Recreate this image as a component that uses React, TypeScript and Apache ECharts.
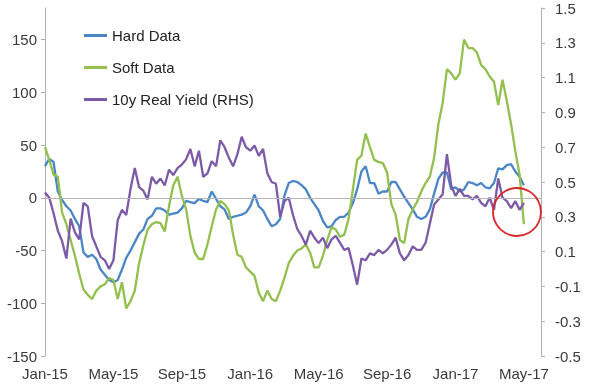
import React, { useEffect, useRef } from "react";
import * as echarts from "echarts";

// Weekly observation dates (1st, 8th, 16th, 23rd of each month), Jan-15 .. Jun-17
const MONTHS = ["Jan", "Feb", "Mar", "Apr", "May", "Jun", "Jul", "Aug", "Sep", "Oct", "Nov", "Dec"];
const DAYS = ["1", "8", "16", "23"];
const categories: string[] = [];
for (let y = 15; y <= 17; y++) {
  for (let m = 0; m < 12; m++) {
    if (y === 17 && m > 5) break;
    for (const d of DAYS) {
      if (y === 17 && m === 5 && d !== "1") break;
      categories.push(`${MONTHS[m]}-${y}|${d}`);
    }
  }
}

// Left axis (index level)
const hardData = [
  30, 37, 34, 6, -2, -8, -12, -20, -27, -52, -56, -54, -58, -68, -73, -78,
  -80, -78, -68, -57, -50, -42, -34, -30, -20, -17, -10, -10, -12, -16, -15, -14,
  -10, -3, -4, -5, -1, -3, -4, 6, -1, -8, -11, -20, -18, -17, -16, -14,
  -8, 3, -8, -12, -20, -27, -25, -20, 2, 14, 16, 15, 12, 8, 0, -6,
  -12, -22, -28, -27, -21, -18, -18, -14, -5, 8, 25, 30, 14, 14, 4, 6,
  6, 15, 15, 8, 1, -5, -11, -18, -20, -18, -11, 4, 18, 24, 24, 8,
  10, 6, 8, 15, 14, 12, 14, 10, 9, 14, 28, 27, 31, 32, 25, 20,
  12,
];
const softData = [
  48, 36, 22, 20, -14, -25, -40, -55, -72, -87, -92, -96, -88, -84, -82, -76,
  -78, -96, -80, -105, -98, -88, -62, -45, -30, -25, -23, -24, -32, -8, 12, 20,
  2, -11, -36, -52, -58, -58, -44, -27, -11, -3, -6, -12, -35, -54, -56, -66,
  -70, -74, -90, -98, -88, -96, -98, -88, -76, -62, -55, -50, -48, -44, -52, -66,
  -66, -55, -40, -28, -30, -37, -35, -20, 8, 36, 40, 61, 48, 36, 34, 33,
  24, -6, -16, -40, -43, -20, -11, -4, 6, 14, 20, 38, 70, 90, 122, 118,
  112, 118, 150, 142, 142, 138, 126, 122, 115, 110, 88, 112, 92, 70, 44, 22,
  -25,
];
// Right axis (%)
const realYield = [
  0.44, 0.41, 0.32, 0.22, 0.16, 0.06, 0.29, 0.21, 0.17, 0.38, 0.36, 0.19, 0.13, 0.07, 0.05, 0.0,
  0.05, 0.28, 0.34, 0.31, 0.46, 0.58, 0.47, 0.45, 0.4, 0.53, 0.49, 0.52, 0.48, 0.57, 0.54, 0.58,
  0.6, 0.63, 0.69, 0.59, 0.68, 0.53, 0.55, 0.62, 0.59, 0.74, 0.7, 0.64, 0.59, 0.66, 0.76, 0.7,
  0.68, 0.71, 0.65, 0.69, 0.55, 0.5, 0.49, 0.3, 0.39, 0.41, 0.31, 0.23, 0.19, 0.14, 0.22, 0.18,
  0.15, 0.18, 0.12, 0.17, 0.19, 0.15, 0.11, 0.12, 0.02, -0.09, 0.06, 0.05, 0.09, 0.08, 0.11, 0.09,
  0.11, 0.14, 0.18, 0.09, 0.05, 0.08, 0.13, 0.11, 0.11, 0.15, 0.26, 0.37, 0.4, 0.43, 0.66, 0.48,
  0.42, 0.46, 0.42, 0.42, 0.4, 0.42, 0.38, 0.36, 0.41, 0.34, 0.52, 0.41, 0.39, 0.35, 0.39, 0.34,
  0.38,
];

const leftTicks = [-150, -100, -50, 0, 50, 100, 150];
const rightTicks = [-0.5, -0.3, -0.1, 0.1, 0.3, 0.5, 0.7, 0.9, 1.1, 1.3, 1.5];
const xLabelMonths = ["Jan", "May", "Sep"];

const FONT = "Liberation Sans, Arial, sans-serif";
const TXT = "#3a3a3a";
const AXIS = "#b0b0b0";

export default function App() {
  const ref = useRef<HTMLDivElement>(null);
  useEffect(() => {
    if (!ref.current) return;
    const chart = echarts.init(ref.current, undefined, { renderer: "svg" });
    chart.setOption({
      animation: false,
      textStyle: { fontFamily: FONT },
      grid: { left: 45, right: 58, top: 8, bottom: 29, containLabel: false },
      legend: {
        data: ["Hard Data", "Soft Data", "10y Real Yield (RHS)"],
        orient: "vertical",
        left: 79,
        top: 23,
        icon: "rect",
        itemWidth: 23,
        itemHeight: 3,
        itemGap: 17,
        textStyle: { fontFamily: FONT, fontSize: 15, color: "#222" },
      },
      xAxis: {
        type: "category",
        data: categories,
        boundaryGap: false,
        axisLine: { show: false },
        axisTick: { show: false },
        splitLine: { show: false },
        axisLabel: {
          interval: (idx: number, val: string) => {
            const [md, d] = val.split("|");
            return d === "1" && xLabelMonths.includes(md.split("-")[0]);
          },
          formatter: (val: string) => val.split("|")[0],
          fontFamily: FONT,
          fontSize: 15,
          color: TXT,
          margin: 10,
        },
      },
      yAxis: [
        {
          type: "value",
          min: -150,
          max: 180,
          position: "left",
          splitLine: { show: false },
          axisLine: { show: true, lineStyle: { color: AXIS, width: 1 } },
          axisTick: { show: true, length: 4, lineStyle: { color: AXIS }, customValues: leftTicks },
          axisLabel: { customValues: leftTicks, fontFamily: FONT, fontSize: 15, color: TXT, margin: 8 },
        },
        {
          type: "value",
          min: -0.5,
          max: 1.5,
          position: "right",
          splitLine: { show: false },
          axisLine: { show: true, lineStyle: { color: AXIS, width: 1 } },
          axisTick: { show: true, length: 4, lineStyle: { color: AXIS }, customValues: rightTicks },
          axisLabel: {
            customValues: rightTicks,
            formatter: (v: number) => v.toFixed(1),
            fontFamily: FONT,
            fontSize: 15,
            color: TXT,
            margin: 14,
          },
        },
      ],
      series: [
        {
          name: "zero",
          type: "line",
          data: [],
          yAxisIndex: 0,
          z: 1,
          silent: true,
          markLine: {
            silent: true,
            symbol: "none",
            label: { show: false },
            lineStyle: { color: "#b5b5b5", width: 1, type: "solid" },
            data: [{ yAxis: 0 }],
          },
        },
        {
          name: "Hard Data",
          type: "line",
          data: hardData,
          yAxisIndex: 0,
          symbol: "none",
          z: 3,
          color: "#4a86c6",
          lineStyle: { width: 2.3, color: "#4a86c6" },
        },
        {
          name: "Soft Data",
          type: "line",
          data: softData,
          yAxisIndex: 0,
          symbol: "none",
          z: 3,
          color: "#93bf4f",
          lineStyle: { width: 2.3, color: "#93bf4f" },
        },
        {
          name: "10y Real Yield (RHS)",
          type: "line",
          data: realYield,
          yAxisIndex: 1,
          symbol: "none",
          z: 3,
          color: "#7b5aa8",
          lineStyle: { width: 2.3, color: "#7b5aa8" },
        },
      ],
      graphic: [
        {
          type: "circle",
          shape: { cx: 517, cy: 212, r: 24 },
          style: { fill: "none", stroke: "#d9262b", lineWidth: 1.8 },
          z: 10,
        },
      ],
    });
    return () => chart.dispose();
  }, []);
  return <div ref={ref} style={{ position: "fixed", left: 0, top: 0, width: 599, height: 385 }} />;
}
